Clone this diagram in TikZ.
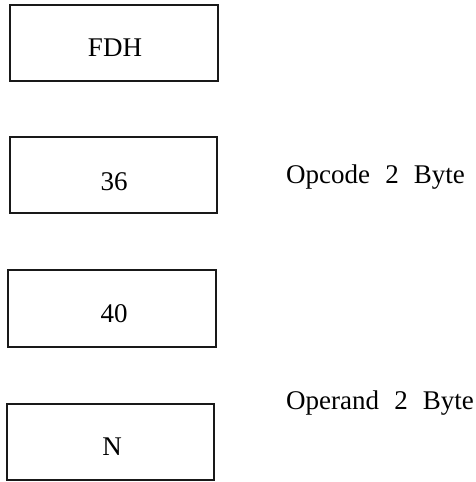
\documentclass[tikz,border=0pt]{standalone}
\usepackage{fontspec}
\setmainfont{Liberation Serif}
\begin{document}
\begin{tikzpicture}[x=1pt,y=-1pt,
  cell/.style={draw=black!90,line width=1.8pt},
  celltext/.style={anchor=base,font=\fontsize{27}{30}\selectfont,inner sep=0pt},
  lbl/.style={anchor=base west,font=\fontsize{27}{30}\selectfont,inner sep=0pt}]
\useasboundingbox (0,0) rectangle (476,482);
\draw[cell] (10,5) rectangle (218,81);
\draw[cell] (10,137) rectangle (217,213);
\draw[cell] (8,270) rectangle (216,347);
\draw[cell] (7,404) rectangle (214,480);
\node[celltext] (t1) at (115,56) {FDH};
\node[celltext] (t2) at (114,190) {36};
\node[celltext] (t3) at (114,322) {40};
\node[celltext] (t4) at (112,455) {N};
\node[lbl] (l1) at (286,183) {Opcode\hspace{0.56em}2\hspace{0.56em}Byte};
\node[lbl] (l2) at (286,409) {Operand\hspace{0.56em}2\hspace{0.56em}Byte};
\end{tikzpicture}
\end{document}
